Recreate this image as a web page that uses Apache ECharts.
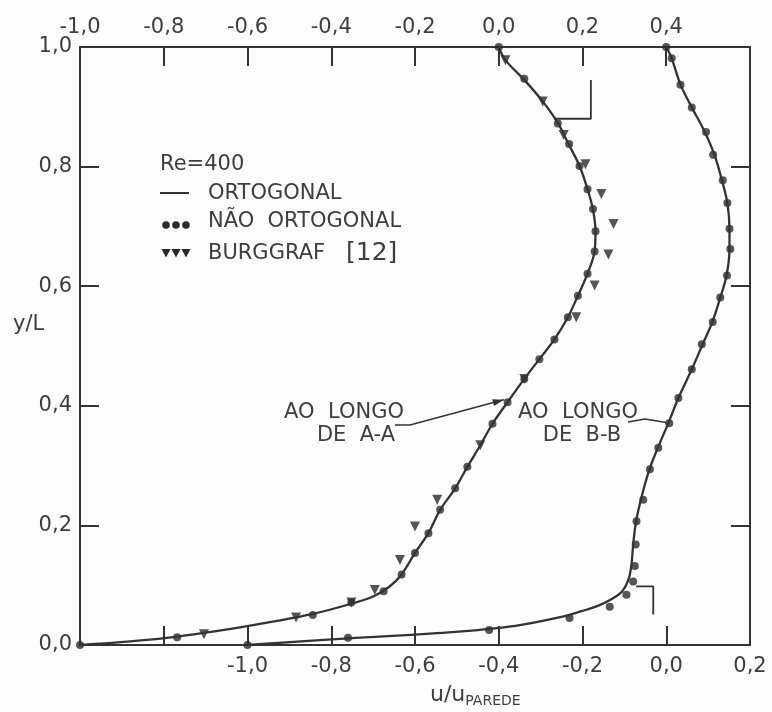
<!DOCTYPE html>
<html><head><meta charset="utf-8">
<script src="https://cdn.jsdelivr.net/npm/echarts/dist/echarts.min.js"></script>
<style>html,body{margin:0;padding:0;background:#fdfdfd}#c{width:772px;height:712px}</style>
</head><body><div id="c"></div>
<script>
// Top axis (A-A), bottom axis (B-B), y axis labelled ticks
const topTickLabels = [-1.0,-0.8,-0.6,-0.4,-0.2,0.0,0.2,0.4];
const bottomTickLabels = [-1.0,-0.8,-0.6,-0.4,-0.2,0.0,0.2];
const yTickLabels = [0.0,0.2,0.4,0.6,0.8,1.0];

// ORTOGONAL solution, along A-A (u on top axis, y/L)
const curveAA = [[0.0,1.0],[0.016,0.978],[0.061,0.945],[0.105,0.909],[0.141,0.873],[0.165,0.840],[0.193,0.801],[0.213,0.76],[0.225,0.728],[0.231,0.692],[0.229,0.659],[0.212,0.621],[0.189,0.584],[0.165,0.548],[0.133,0.511],[0.097,0.478],[0.061,0.445],[0.021,0.406],[-0.015,0.370],[-0.044,0.334],[-0.075,0.298],[-0.104,0.262],[-0.14,0.226],[-0.168,0.187],[-0.2,0.154],[-0.232,0.118],[-0.262,0.097],[-0.30,0.081],[-0.352,0.069],[-0.444,0.052],[-0.54,0.039],[-0.64,0.027],[-0.768,0.014],[-0.88,0.006],[-1.0,0.0]];
// ORTOGONAL solution, along B-B (u on bottom axis)
const curveBB = [[0.0,1.0],[0.013,0.981],[0.034,0.937],[0.061,0.899],[0.092,0.858],[0.115,0.82],[0.133,0.777],[0.146,0.739],[0.151,0.696],[0.151,0.662],[0.144,0.618],[0.129,0.581],[0.11,0.540],[0.085,0.50],[0.061,0.461],[0.029,0.413],[0.005,0.371],[-0.02,0.33],[-0.04,0.294],[-0.058,0.25],[-0.072,0.207],[-0.079,0.168],[-0.083,0.135],[-0.09,0.11],[-0.105,0.09],[-0.13,0.077],[-0.165,0.065],[-0.2,0.057],[-0.25,0.047],[-0.36,0.032],[-0.52,0.021],[-0.76,0.011],[-1.0,0.0]];
// NÃO ORTOGONAL points
const dotsAA = [[0.0,1.0],[0.061,0.947],[0.141,0.872],[0.168,0.838],[0.193,0.801],[0.212,0.762],[0.225,0.729],[0.231,0.692],[0.229,0.658],[0.212,0.621],[0.189,0.584],[0.165,0.548],[0.133,0.511],[0.097,0.478],[0.061,0.445],[0.021,0.406],[-0.015,0.370],[-0.075,0.298],[-0.104,0.262],[-0.14,0.226],[-0.168,0.187],[-0.2,0.154],[-0.232,0.118],[-0.275,0.09],[-0.352,0.071],[-0.444,0.05],[-0.768,0.013],[-1.0,0.0]];
const dotsBB = [[0.0,1.0],[0.013,0.981],[0.034,0.937],[0.061,0.899],[0.095,0.858],[0.112,0.820],[0.135,0.777],[0.146,0.739],[0.151,0.696],[0.153,0.662],[0.145,0.618],[0.129,0.581],[0.111,0.540],[0.085,0.503],[0.061,0.461],[0.029,0.413],[0.007,0.371],[-0.019,0.330],[-0.039,0.294],[-0.055,0.243],[-0.071,0.207],[-0.073,0.168],[-0.075,0.132],[-0.079,0.106],[-0.095,0.084],[-0.135,0.064],[-0.231,0.045],[-0.423,0.025],[-0.76,0.012],[-1.0,0.0]];
// BURGGRAF [12]
const triAA = [[0.016,0.978],[0.105,0.909],[0.155,0.853],[0.207,0.804],[0.245,0.754],[0.274,0.704],[0.262,0.653],[0.229,0.601],[0.185,0.548],[0.061,0.445],[-0.044,0.334],[-0.147,0.243],[-0.2,0.198],[-0.236,0.142],[-0.296,0.092],[-0.352,0.071],[-0.484,0.046],[-0.704,0.018]];
// section brackets
const bracketAA = [[0.132,0.880],[0.22,0.880],[0.22,0.945]];
const bracketBB = [[-0.072,0.098],[-0.031,0.098],[-0.031,0.051]];

const LC = '#333333', TC = '#3e3e3e', FF = 'DejaVu Sans';
const fmt = v => { const s = Math.abs(v).toFixed(1).replace('.', ','); return v < -1e-9 ? '-' + s : s; };
const pick = list => v => list.some(t => Math.abs(t - v) < 1e-6) ? fmt(v) : '';
const lineStyle = {color: LC, width: 2};
const tick = {show: true, inside: true, length: 19, lineStyle: {color: LC, width: 2}};
const axLine = {onZero: false, lineStyle};

const chart = echarts.init(document.getElementById('c'));
chart.setOption({
  backgroundColor: '#fdfdfd',
  animation: false,
  grid: {left: 80, right: 22, top: 47, bottom: 67},
  xAxis: [
    {type: 'value', position: 'top', min: -1.0, max: 0.6, interval: 0.2,
     axisLine: axLine, axisTick: tick, splitLine: {show: false},
     axisLabel: {formatter: pick(topTickLabels), margin: 9, color: TC, fontSize: 21, fontFamily: FF}},
    {type: 'value', position: 'bottom', min: -1.4, max: 0.2, interval: 0.2,
     axisLine: axLine, axisTick: tick, splitLine: {show: false},
     axisLabel: {formatter: pick(bottomTickLabels), margin: 11, color: TC, fontSize: 21, fontFamily: FF}}
  ],
  yAxis: [
    {type: 'value', position: 'left', min: 0, max: 1, interval: 0.2,
     axisLine: axLine, axisTick: tick, splitLine: {show: false},
     axisLabel: {formatter: pick(yTickLabels), margin: 8, color: TC, fontSize: 21, fontFamily: FF}},
    {type: 'value', position: 'right', min: 0, max: 1, interval: 0.2,
     axisLine: axLine, axisTick: tick, splitLine: {show: false}, axisLabel: {show: false}}
  ],
  series: [
    {type: 'line', xAxisIndex: 0, yAxisIndex: 0, data: curveAA, smooth: 0.35, showSymbol: false, lineStyle: {color: LC, width: 2.3}},
    {type: 'line', xAxisIndex: 1, yAxisIndex: 0, data: curveBB, smooth: 0.35, showSymbol: false, lineStyle: {color: LC, width: 2.3}},
    {type: 'scatter', xAxisIndex: 0, yAxisIndex: 0, data: dotsAA, symbol: 'circle', symbolSize: 8, itemStyle: {color: '#2a2a2a'}},
    {type: 'scatter', xAxisIndex: 1, yAxisIndex: 0, data: dotsBB, symbol: 'circle', symbolSize: 8, itemStyle: {color: '#2a2a2a'}},
    {type: 'scatter', xAxisIndex: 0, yAxisIndex: 0, data: triAA, symbol: 'triangle', symbolRotate: 180, symbolSize: 10, itemStyle: {color: '#2a2a2a'}},
    {type: 'line', xAxisIndex: 0, yAxisIndex: 0, data: bracketAA, showSymbol: false, lineStyle: {color: LC, width: 1.8}},
    {type: 'line', xAxisIndex: 1, yAxisIndex: 0, data: bracketBB, showSymbol: false, lineStyle: {color: LC, width: 1.8}}
  ]
});

const tipA = chart.convertToPixel({xAxisIndex: 0, yAxisIndex: 0}, [0.012, 0.41]);
const tipB = chart.convertToPixel({xAxisIndex: 1, yAxisIndex: 0}, [0.0, 0.372]);
const txt = (x, y, s, size, align) => ({type: 'text', x, y, style: {text: s, fill: TC, font: `${size || 21}px "${FF}"`, align: align || 'left', verticalAlign: 'middle'}});
const dot = (x, y) => ({type: 'circle', shape: {cx: x, cy: y, r: 3.8}, style: {fill: '#2a2a2a'}});
const tri = (x, y) => ({type: 'polygon', shape: {points: [[x - 4.5, y - 4], [x + 4.5, y - 4], [x, y + 4.5]]}, style: {fill: '#2a2a2a'}});
const ang = Math.atan2(tipA[1] - 425, tipA[0] - 410);
const ah = (x, y, a) => ({type: 'polygon', shape: {points: [[x, y], [x - 11 * Math.cos(a) + 3.5 * Math.sin(a), y - 11 * Math.sin(a) - 3.5 * Math.cos(a)], [x - 11 * Math.cos(a) - 3.5 * Math.sin(a), y - 11 * Math.sin(a) + 3.5 * Math.cos(a)]]}, style: {fill: LC}});
chart.setOption({graphic: [
  txt(160, 165, 'Re=400'),
  {type: 'line', shape: {x1: 160, y1: 193, x2: 189, y2: 193}, style: {stroke: LC, lineWidth: 2}},
  txt(208, 194, 'ORTOGONAL'),
  dot(166, 225), dot(176, 225), dot(186, 225),
  txt(208, 222, 'NÃO  ORTOGONAL'),
  tri(166, 253), tri(176, 253), tri(186, 253),
  txt(208, 254, 'BURGGRAF'),
  txt(346, 253, '[12]', 25),
  txt(13, 325, 'y/L', 21, 'left'),
  {type: 'text', x: 430, y: 695, style: {rich: {a: {fontSize: 22, fontFamily: FF, fill: TC}, b: {fontSize: 14, fontFamily: FF, fill: TC, padding: [12, 0, 0, 0]}}, text: '{a|u/u}{b|PAREDE}', verticalAlign: 'middle'}},
  txt(344, 413, 'AO  LONGO', 21, 'center'),
  txt(356, 436, 'DE  A-A', 21, 'center'),
  txt(578, 413, 'AO  LONGO', 21, 'center'),
  txt(582, 436, 'DE  B-B', 21, 'center'),
  {type: 'polyline', shape: {points: [[395, 425], [410, 425], [tipA[0], tipA[1]]]}, style: {stroke: LC, lineWidth: 1.5, fill: null}},
  ah(tipA[0], tipA[1], ang),
  {type: 'polyline', shape: {points: [[628, 422], [645, 419], [tipB[0], tipB[1]]]}, style: {stroke: LC, lineWidth: 1.5, fill: null}}
]});
</script></body></html>
